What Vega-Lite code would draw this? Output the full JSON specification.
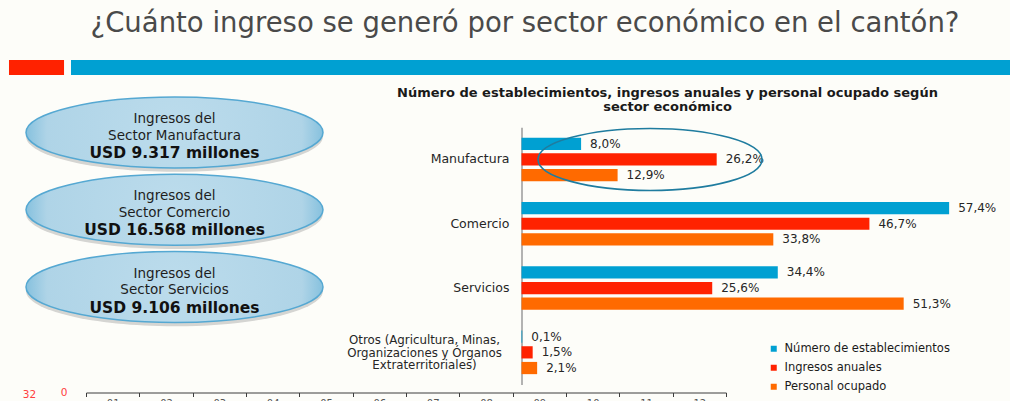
{
  "$schema": "https://vega.github.io/schema/vega-lite/v6.json",
  "width": 1010,
  "height": 351,
  "autosize": {"type": "none"},
  "padding": {"top": 50, "left": 0, "right": 0, "bottom": 0},
  "background": "#fdfdf9",
  "title": {
    "text": "¿Cuánto ingreso se generó por sector económico en el cantón?",
    "fontSize": 27.5,
    "font": "DejaVu Sans",
    "fontWeight": "normal",
    "color": "#4a4a4a",
    "anchor": "middle",
    "offset": 17,
    "baseline": "alphabetic",
    "dx": 20,
    "dy": 26
  },
  "config": {
    "font": "DejaVu Sans",
    "view": {"stroke": null},
    "locale": {"number": {"decimal": ",", "thousands": ".", "grouping": [3], "currency": ["$", ""]}}
  },
  "datasets": {
    "barras": [
      {"sector": "Manufactura", "serie": "Número de establecimientos", "valor": 0.080},
      {"sector": "Manufactura", "serie": "Ingresos anuales", "valor": 0.262},
      {"sector": "Manufactura", "serie": "Personal ocupado", "valor": 0.129},
      {"sector": "Comercio", "serie": "Número de establecimientos", "valor": 0.574},
      {"sector": "Comercio", "serie": "Ingresos anuales", "valor": 0.467},
      {"sector": "Comercio", "serie": "Personal ocupado", "valor": 0.338},
      {"sector": "Servicios", "serie": "Número de establecimientos", "valor": 0.344},
      {"sector": "Servicios", "serie": "Ingresos anuales", "valor": 0.256},
      {"sector": "Servicios", "serie": "Personal ocupado", "valor": 0.513},
      {"sector": "Otros (Agricultura, Minas,\nOrganizaciones y Órganos\nExtraterritoriales)", "serie": "Número de establecimientos", "valor": 0.001},
      {"sector": "Otros (Agricultura, Minas,\nOrganizaciones y Órganos\nExtraterritoriales)", "serie": "Ingresos anuales", "valor": 0.015},
      {"sector": "Otros (Agricultura, Minas,\nOrganizaciones y Órganos\nExtraterritoriales)", "serie": "Personal ocupado", "valor": 0.021}
    ],
    "elipses": [
      {"sector": "Manufactura", "titulo": "Ingresos del\nSector Manufactura", "monto": "USD 9.317 millones"},
      {"sector": "Comercio", "titulo": "Ingresos del\nSector Comercio", "monto": "USD 16.568 millones"},
      {"sector": "Servicios", "titulo": "Ingresos del\nSector Servicios", "monto": "USD  9.106 millones"}
    ],
    "meses": [
      {"mes": "01"}, {"mes": "02"}, {"mes": "03"}, {"mes": "04"}, {"mes": "05"}, {"mes": "06"},
      {"mes": "07"}, {"mes": "08"}, {"mes": "09"}, {"mes": "10"}, {"mes": "11"}, {"mes": "12"}
    ]
  },
  "resolve": {"scale": {"x": "independent", "y": "independent", "color": "independent"}},
  "layer": [
    {
      "data": {"values": [{"franja": "encabezado"}]},
      "layer": [
        {
          "mark": {"type": "rect", "color": "#ff2200"},
          "encoding": {
            "x": {"datum": 0.0089, "type": "quantitative", "scale": {"domain": [0, 1], "range": [0, 1010]}, "axis": null},
            "x2": {"datum": 0.0634},
            "y": {"datum": 0, "type": "quantitative", "scale": {"domain": [0, 1], "range": [10, 25]}, "axis": null},
            "y2": {"datum": 1}
          }
        },
        {
          "mark": {"type": "rect", "color": "#00a0d2"},
          "encoding": {
            "x": {"datum": 0.0703, "type": "quantitative"},
            "x2": {"datum": 1},
            "y": {"datum": 0, "type": "quantitative"},
            "y2": {"datum": 1}
          }
        }
      ]
    },
    {
      "data": {"name": "elipses"},
      "encoding": {
        "y": {"field": "sector", "type": "nominal", "scale": {"type": "point", "domain": ["Manufactura", "Comercio", "Servicios"], "range": [82.5, 237], "padding": 0}, "axis": null},
        "x": {"datum": 0.5, "type": "quantitative", "scale": {"domain": [0, 1], "range": [25, 324]}, "axis": null}
      },
      "layer": [
        {
          "mark": {"type": "point", "shape": "M-1,0.025C-1,-0.107,-0.552,-0.214,0,-0.214C0.552,-0.214,1,-0.107,1,0.025C1,0.157,0.552,0.264,0,0.264C-0.552,0.264,-1,0.157,-1,0.025Z", "size": 88209, "filled": true, "fill": "#8a8a8a", "opacity": 0.35, "strokeWidth": 0}
        },
        {
          "mark": {
            "type": "point",
            "shape": "M-1,0C-1,-0.132,-0.552,-0.239,0,-0.239C0.552,-0.239,1,-0.132,1,0C1,0.132,0.552,0.239,0,0.239C-0.552,0.239,-1,0.132,-1,0Z",
            "size": 88209,
            "filled": true,
            "opacity": 1,
            "fill": {"gradient": "radial", "x1": 0.5, "y1": 0.5, "r1": 0, "x2": 0.5, "y2": 0.5, "r2": 0.5,
              "stops": [{"offset": 0, "color": "#bcdcec"}, {"offset": 0.86, "color": "#afd4e7"}, {"offset": 1, "color": "#86c1de"}]},
            "stroke": "#55a8d2",
            "strokeWidth": 1.5
          }
        },
        {
          "mark": {"type": "text", "lineBreak": "\n", "fontSize": 13.5, "lineHeight": 16.5, "dy": -13.5, "color": "#1e1e1e"},
          "encoding": {"text": {"field": "titulo"}}
        },
        {
          "mark": {"type": "text", "fontSize": 15.5, "fontWeight": "bold", "dy": 20.5, "color": "#111111"},
          "encoding": {"text": {"field": "monto"}}
        }
      ]
    },
    {
      "data": {"name": "barras"},
      "encoding": {
        "y": {
          "field": "sector", "type": "nominal",
          "scale": {"domain": ["Manufactura", "Comercio", "Servicios", "Otros (Agricultura, Minas,\nOrganizaciones y Órganos\nExtraterritoriales)"], "range": [77.3, 334.5], "paddingInner": 0.322, "paddingOuter": 0.161},
          "axis": {"orient": "left", "offset": -521.5, "labels": false, "ticks": false, "domain": true, "domainColor": "#9a9a9a", "domainWidth": 1.5, "title": null, "grid": false}
        },
        "x": {
          "field": "valor", "type": "quantitative",
          "scale": {"domain": [0, 0.6], "range": [521.5, 968.5]},
          "axis": {"orient": "top", "labels": false, "ticks": false, "domain": false, "grid": false,
            "title": ["Número de establecimientos, ingresos anuales y personal ocupado según", "sector económico"],
            "titleX": 667, "titleY": 46, "titleAlign": "center", "titleAnchor": null, "titleBaseline": "alphabetic",
            "titleFontSize": 13, "titleFontWeight": "bold", "titleColor": "#1a1a1a", "titleLineHeight": 14, "titleAngle": 0}
        }
      },
      "layer": [
        {
          "mark": {"type": "bar"},
          "encoding": {
            "yOffset": {"field": "serie", "type": "nominal", "scale": {"domain": ["Número de establecimientos", "Ingresos anuales", "Personal ocupado"], "paddingInner": 0.22, "paddingOuter": 0}},
            "color": {
              "field": "serie", "type": "nominal",
              "scale": {"domain": ["Número de establecimientos", "Ingresos anuales", "Personal ocupado"], "range": ["#00a0d2", "#ff2200", "#ff6a00"]},
              "legend": {"orient": "none", "legendX": 768, "legendY": 293, "title": null, "symbolType": "square", "symbolSize": 36, "symbolStrokeWidth": 0, "labelFontSize": 11.5, "labelColor": "#1a1a1a", "labelLimit": 0, "rowPadding": 6, "labelOffset": 5, "padding": 0}
            }
          }
        },
        {
          "mark": {"type": "text", "align": "left", "dx": 9, "fontSize": 12, "color": "#262626"},
          "encoding": {
            "yOffset": {"field": "serie", "type": "nominal"},
            "text": {"field": "valor", "type": "quantitative", "format": ".1%"}
          }
        },
        {
          "transform": [{"filter": "datum.serie == 'Número de establecimientos' && indexof(datum.sector, 'Otros') < 0"}],
          "mark": {"type": "text", "align": "right", "dx": -12, "fontSize": 12.5, "color": "#262626"},
          "encoding": {"x": {"datum": 0, "type": "quantitative"}, "text": {"field": "sector"}}
        },
        {
          "transform": [{"filter": "datum.serie == 'Número de establecimientos' && indexof(datum.sector, 'Otros') >= 0"}],
          "mark": {"type": "text", "align": "center", "dx": -97, "dy": -12, "lineBreak": "\n", "lineHeight": 12.3, "fontSize": 11.8, "color": "#262626"},
          "encoding": {"x": {"datum": 0, "type": "quantitative"}, "text": {"field": "sector"}}
        },
        {
          "transform": [{"filter": "datum.sector == 'Manufactura' && datum.serie == 'Ingresos anuales'"}],
          "mark": {"type": "point", "shape": "M-1,0C-1,-0.153,-0.552,-0.277,0,-0.277C0.552,-0.277,1,-0.153,1,0C1,0.153,0.552,0.277,0,0.277C-0.552,0.277,-1,0.153,-1,0Z", "size": 50176, "filled": true, "fill": "transparent", "stroke": "#1f7c9f", "strokeWidth": 1.6, "opacity": 1},
          "encoding": {"x": {"datum": 0.1725, "type": "quantitative"}}
        }
      ]
    },
    {
      "data": {"name": "meses"},
      "mark": {"type": "tick", "opacity": 0},
      "encoding": {
        "x": {
          "field": "mes", "type": "ordinal",
          "scale": {"type": "band", "range": [86, 726], "paddingInner": 0, "paddingOuter": 0},
          "axis": {"orient": "bottom", "offset": -8.5, "title": null, "domainColor": "#3c3c3c", "tickColor": "#3c3c3c", "tickSize": 4, "tickBand": "extent", "labelFontSize": 10, "labelColor": "#555555", "labelPadding": 2, "labelAngle": 0, "grid": false}
        },
        "y": {
          "datum": 0, "type": "quantitative",
          "scale": {"domain": [0, 10], "range": [342.5, 300]},
          "axis": {"orient": "left", "offset": -86, "values": [0], "domain": false, "ticks": false, "grid": false, "labelColor": "#ff4040", "labelFontSize": 10.5, "labelPadding": 19,
            "title": "32", "titleAngle": 0, "titleX": -57, "titleY": 344.5, "titleColor": "#ff4040", "titleFontSize": 10.5, "titleFontWeight": "normal", "titleBaseline": "middle", "titleAlign": "center"}
        }
      }
    }
  ]
}
